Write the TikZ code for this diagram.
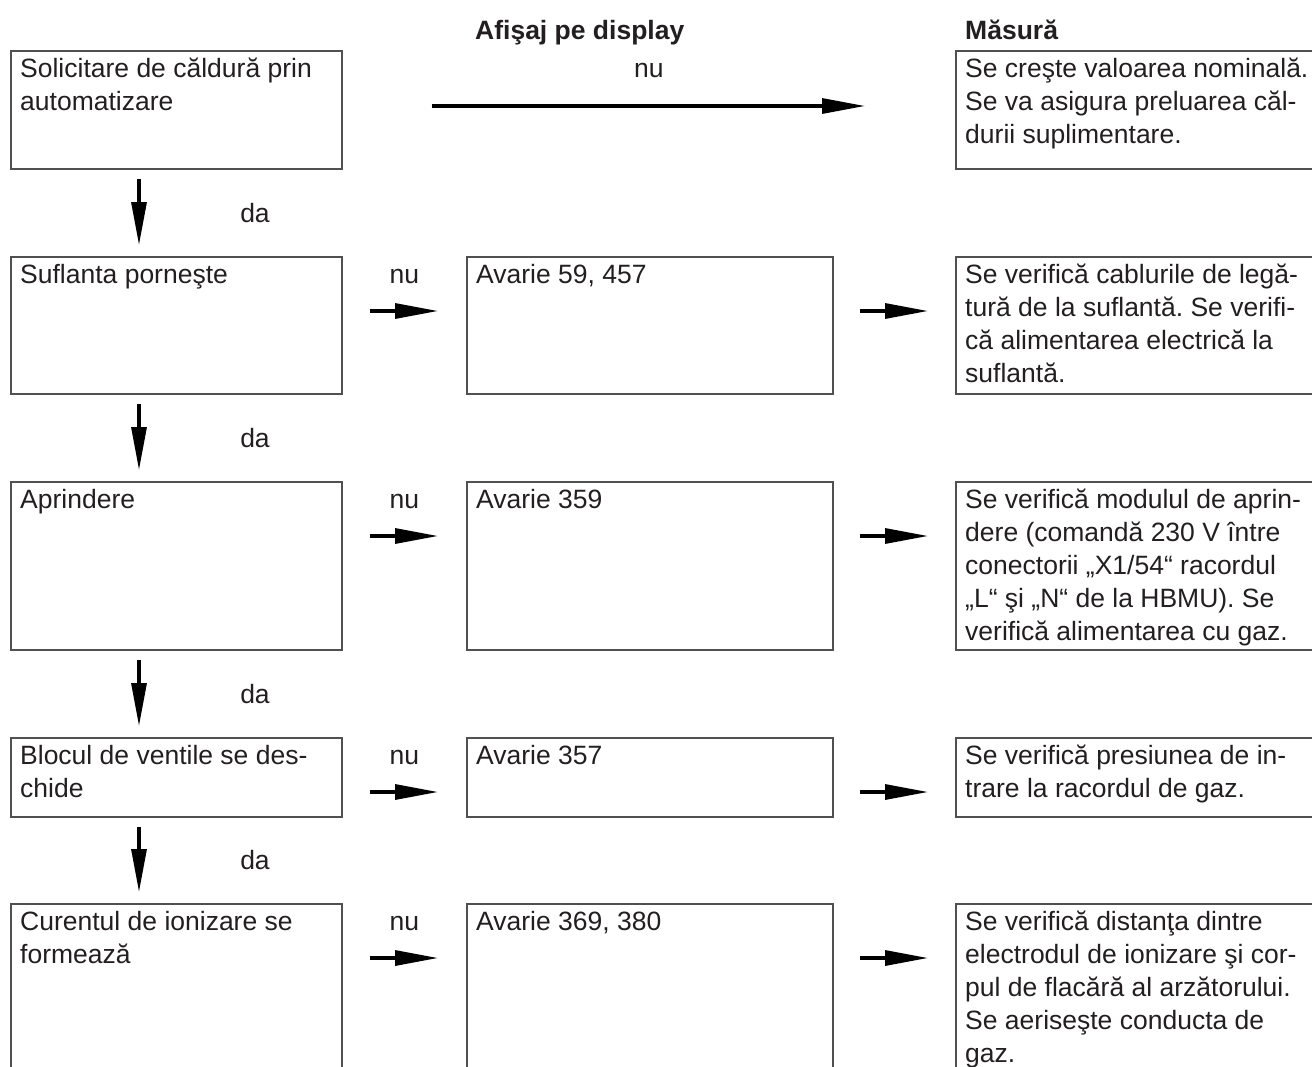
\documentclass[tikz,border=0pt]{standalone}
\usepackage{fontspec}
\setmainfont{Liberation Sans}
\usetikzlibrary{arrows.meta,calc}
\frenchspacing
\definecolor{txtc}{HTML}{231F20}
\definecolor{linec}{HTML}{505050}
\tikzset{
  boxst/.style={draw=linec, line width=1.5pt, inner sep=0pt, anchor=north west},
  txt/.style={text=txtc, font=\fontsize{26.5}{33}\selectfont, inner sep=0pt, anchor=north west, align=left},
  arr/.style={line width=3.2pt, -{Triangle[length=43pt,width=15pt]}},
  lbl/.style={text=txtc, font=\fontsize{26.5}{33}\selectfont, inner sep=0pt, anchor=base},
  hdr/.style={text=txtc, font=\bfseries\fontsize{26.5}{33}\selectfont, inner sep=0pt, anchor=base west},
}
\newcommand\mybox[6]{%
  \node[boxst, minimum width=#4pt, minimum height=#5pt] (#1) at (#2,#3) {};
  \node[txt] (#1t) at ($(#1.north west)+(10,5.5)$) {\rule{0pt}{22pt}#6};
}
\begin{document}
\frenchspacing
\begin{tikzpicture}[x=1pt,y=-1pt]
\useasboundingbox (0,0) rectangle (1312,1066);
\clip (0,0) rectangle (1312,1066);
\fill[white] (0,0) rectangle (1312,1066);

% headers
\node[hdr] (h1) at (475,39) {Afişaj pe display};
\node[hdr] (h2) at (965,39) {Măsură};

% row 1
\mybox{L1}{10}{50}{331}{118}{Solicitare de căldură prin\\automatizare}
\mybox{R1}{955}{50}{400}{118}{Se creşte valoarea nominală.\\Se va asigura preluarea căl-\\durii suplimentare.}

% row 2
\mybox{L2}{10}{256}{331}{137}{Suflanta porneşte}
\mybox{M2}{466}{256}{366}{137}{Avarie 59, 457}
\mybox{R2}{955}{256}{400}{137}{Se verifică cablurile de legă-\\tură de la suflantă. Se verifi-\\că alimentarea electrică la\\suflantă.}

% row 3
\mybox{L3}{10}{481}{331}{168}{Aprindere}
\mybox{M3}{466}{481}{366}{168}{Avarie 359}
\mybox{R3}{955}{481}{400}{168}{Se verifică modulul de aprin-\\dere (comandă 230 V între\\conectorii „X1/54“ racordul\\„L“ şi „N“ de la HBMU). Se\\verifică alimentarea cu gaz.}

% row 4
\mybox{L4}{10}{737}{331}{79}{Blocul de ventile se des-\\chide}
\mybox{M4}{466}{737}{366}{79}{Avarie 357}
\mybox{R4}{955}{737}{400}{79}{Se verifică presiunea de in-\\trare la racordul de gaz.}

% row 5
\mybox{L5}{10}{903}{331}{220}{Curentul de ionizare se\\formează}
\mybox{M5}{466}{903}{366}{220}{Avarie 369, 380}
\mybox{R5}{955}{903}{400}{220}{Se verifică distanţa dintre\\electrodul de ionizare şi cor-\\pul de flacără al arzătorului.\\Se aeriseşte conducta de\\gaz.}

% row 1 "nu" arrow
\draw[arr, shorten <=89pt, shorten >=90pt] ($(L1.north east)+(0,56)$) -- ($(R1.north west)+(0,56)$);
\node[lbl] (n1) at ($(L1.north east)!0.5!(R1.north west)+(0,27.5)$) {nu};

% horizontal arrows rows 2-5
\foreach \r in {2,3,4,5}{
  \draw[arr, shorten <=27pt, shorten >=28pt] ($(L\r.north east)+(0,55)$) -- ($(M\r.north west)+(0,55)$);
  \draw[arr, shorten <=26pt, shorten >=27pt] ($(M\r.north east)+(0,55)$) -- ($(R\r.north west)+(0,55)$);
  \node[lbl] (n\r) at ($(L\r.north east)!0.5!(M\r.north west)+(0,27.5)$) {nu};
}

% vertical "da" arrows
\foreach \a/\b in {1/2,2/3,3/4,4/5}{
  \draw[arr, shorten <=9pt, shorten >=11pt] ($(L\a.south west)+(129,0)$) -- ($(L\b.north west)+(129,0)$);
  \node[lbl, anchor=center] (d\a) at ($(L\a.south west)!0.5!(L\b.north west)+(245,0)$) {da};
}
\end{tikzpicture}
\end{document}
